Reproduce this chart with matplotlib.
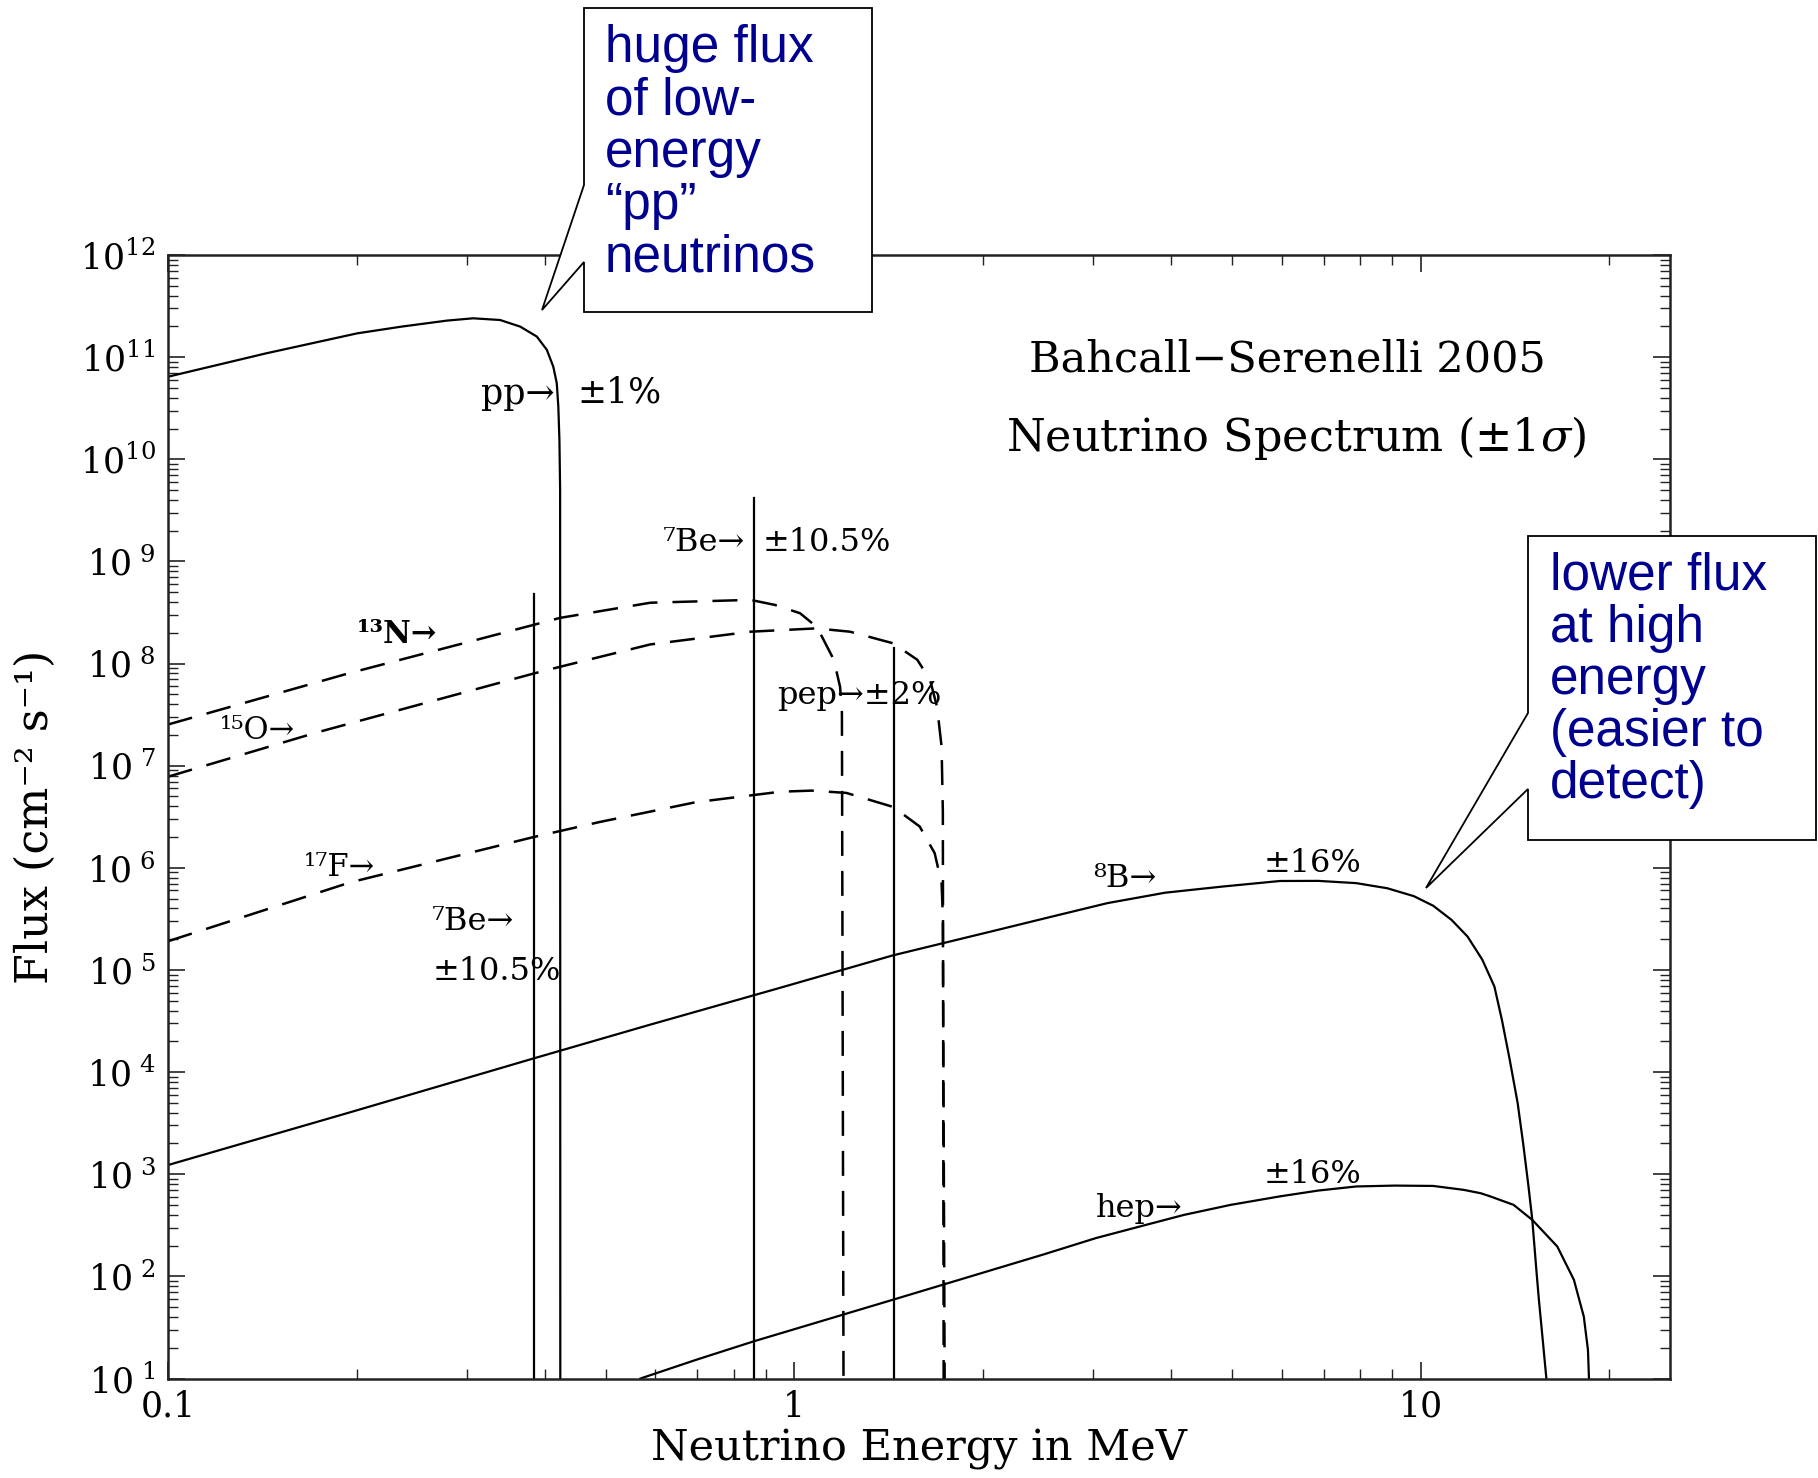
import matplotlib
matplotlib.use('Agg')
import numpy as np
import matplotlib.pyplot as plt
from matplotlib.patches import Polygon
from matplotlib.ticker import FixedLocator, FixedFormatter, LogLocator, NullFormatter

plt.rcParams['font.family'] = ['DejaVu Serif']
plt.rcParams['mathtext.fontset'] = 'dejavuserif'

# spectra: energy in MeV, flux in cm^-2 s^-1 (MeV^-1 for continua)
pp_E = [0.100, 0.1435, 0.2005, 0.236, 0.279, 0.307, 0.339, 0.365, 0.388, 0.4025, 0.4122, 0.4175, 0.4199,
        0.4216, 0.4227, 0.4230]
pp_F = [6.43e10, 1.09e11, 1.71e11, 1.99e11, 2.28e11, 2.40e11, 2.31e11, 1.99e11, 1.59e11, 1.18e11, 8.07e10,
        5.56e10, 3.28e10, 1.55e10, 5e9, 1.0]

n13_E = [0.100, 0.1937, 0.3833, 0.4227, 0.589, 0.851, 0.931, 1.021, 1.087, 1.156, 1.183, 1.191, 1.199]
n13_F = [2.53e7, 7.98e7, 2.39e8, 2.80e8, 3.94e8, 4.20e8, 3.75e8, 3.11e8, 2.27e8, 1.09e8, 5.9e7, 3.28e7, 1.0]

o15_E = [0.100, 0.1726, 0.3833, 0.4227, 0.589, 0.851, 1.084, 1.227, 1.437, 1.571, 1.647, 1.690, 1.718, 1.726, 1.732]
o15_F = [7.8e6, 2.11e7, 7.98e7, 9.3e7, 1.54e8, 2.05e8, 2.21e8, 2.05e8, 1.58e8, 1.09e8, 6.9e7, 3.74e7, 1.54e7, 3.56e6, 1.0]

f17_E = [0.100, 0.1954, 0.3833, 0.489, 0.696, 0.950, 1.066, 1.211, 1.437, 1.585, 1.675, 1.718, 1.726, 1.740]
f17_F = [1.91e5, 7.2e5, 2.0e6, 2.81e6, 4.39e6, 5.56e6, 5.70e6, 5.41e6, 3.95e6, 2.54e6, 1.39e6, 7.05e5, 3.39e5, 1.0]

b8_E = [0.100, 0.1937, 0.3833, 0.587, 0.950, 1.437, 2.13, 2.562, 3.16, 3.91, 4.82, 5.96, 6.86, 7.89, 8.84, 9.75,
        10.47, 11.2, 11.88, 12.54, 13.11, 13.48, 13.87, 14.28, 14.57, 14.86, 15.07, 15.32, 15.44, 15.64, 15.87]
b8_F = [1.23e3, 3.98e3, 1.36e4, 2.90e4, 6.7e4, 1.39e5, 2.50e5, 3.30e5, 4.51e5, 5.71e5, 6.55e5, 7.43e5, 7.45e5,
        7.08e5, 6.31e5, 5.28e5, 4.25e5, 3.09e5, 2.12e5, 1.26e5, 6.88e4, 3.22e4, 1.32e4, 4.97e3, 2.01e3, 759, 357,
        103, 58.8, 25.8, 10.0]

hep_E = [0.568, 0.696, 0.861, 1.44, 2.50, 3.03, 3.64, 4.19, 4.97, 5.96, 6.86, 7.89, 9.09, 10.47, 11.71, 12.46,
         12.91, 14.07, 15.07, 16.52, 17.56, 18.21, 18.49, 18.56]
hep_F = [10.0, 15.2, 23.1, 59.3, 164, 237, 319, 400, 501, 607, 692, 759, 774, 768, 703, 652,
         607, 501, 357, 196, 92.5, 40.4, 19.1, 10.0]

# line sources (7Be 0.384, 7Be 0.862, pep 1.442)
line_E = [0.384, 0.862, 1.442]
line_F = [4.85e8, 4.13e9, 1.42e8]

x_ticks = [0.1, 1, 10]
x_tick_labels = ['0.1', '1', '10']
y_ticks = [10.0 ** k for k in range(1, 13)]
y_tick_labels = [r'$10^{\ %d}$' % k if k < 10 else r'$10^{%d}$' % k for k in range(1, 13)]

W, H = 1818, 1478
fig = plt.figure(figsize=(W / 100, H / 100), dpi=100)
ax = fig.add_axes([168 / W, 1 - 1378.5 / H, (1670 - 168) / W, (1378.5 - 255) / H])

lw = 1.6
ax.plot(pp_E, pp_F, color='black', lw=lw)
ax.plot(b8_E, b8_F, color='black', lw=lw)
ax.plot(hep_E, hep_F, color='black', lw=lw)
for e, f in zip(line_E, line_F):
    ax.plot([e, e], [1.0, f], color='black', lw=lw)
for E, F in [(n13_E, n13_F), (o15_E, o15_F), (f17_E, f17_F)]:
    ax.plot(E, F, color='black', lw=1.8, dashes=(10, 6))

ax.set_xscale('log')
ax.set_yscale('log')
ax.set_xlim(0.1, 25)
ax.set_ylim(10, 1e12)

ax.xaxis.set_major_locator(FixedLocator(x_ticks))
ax.xaxis.set_major_formatter(FixedFormatter(x_tick_labels))
ax.xaxis.set_minor_locator(LogLocator(base=10, subs=np.arange(2, 10), numticks=50))
ax.xaxis.set_minor_formatter(NullFormatter())
ax.yaxis.set_major_locator(FixedLocator(y_ticks))
ax.yaxis.set_major_formatter(FixedFormatter(y_tick_labels))
ax.yaxis.set_minor_locator(LogLocator(base=10, subs=np.arange(2, 10), numticks=50))
ax.yaxis.set_minor_formatter(NullFormatter())

ax.tick_params(which='both', direction='in', top=True, right=True, color='#222222')
ax.tick_params(which='major', length=12, width=1.2, labelsize=25)
ax.tick_params(axis='y', which='major', pad=9)
ax.tick_params(axis='x', which='major', pad=8)
ax.tick_params(which='minor', length=7, width=1.0)
for s in ax.spines.values():
    s.set_linewidth(1.8)
    s.set_color('#222222')

ax.set_xlabel('Neutrino Energy in MeV', fontsize=31, va='center')
ax.xaxis.set_label_coords(0.5, -0.063)
ax.set_ylabel('Flux (cm⁻² s⁻¹)', fontsize=32, va='center')
ax.yaxis.set_label_coords(-0.088, 0.5)

ax.text(0.745, 0.907, 'Bahcall−Serenelli 2005', transform=ax.transAxes, fontsize=31,
        ha='center', va='center')
ax.text(0.751, 0.837, r'Neutrino Spectrum (±1$\sigma$)', transform=ax.transAxes, fontsize=32,
        ha='center', va='center')

labels = [
    ('pp→', 0.2085, 0.876, 25, 'normal'),
    ('±1%', 0.2726, 0.878, 25, 'normal'),
    ('⁷Be→', 0.3297, 0.744, 23, 'normal'),
    ('±10.5%', 0.396, 0.744, 23, 'normal'),
    ('¹³N→', 0.1259, 0.6625, 22, 'bold'),
    ('¹⁵O→', 0.0347, 0.577, 22, 'normal'),
    ('¹⁷F→', 0.0903, 0.455, 22, 'normal'),
    ('⁷Be→', 0.1753, 0.4066, 23, 'normal'),
    ('±10.5%', 0.1761, 0.3622, 23, 'normal'),
    ('pep→±2%', 0.4054, 0.6078, 23, 'normal'),
    ('⁸B→', 0.6162, 0.4448, 23, 'normal'),
    ('±16%', 0.7297, 0.4582, 23, 'normal'),
    ('hep→', 0.6178, 0.1517, 23, 'normal'),
    ('±16%', 0.7297, 0.1816, 23, 'normal'),
]
for txt, x, y, size, weight in labels:
    ax.text(x, y, txt, transform=ax.transAxes, fontsize=size, fontweight=weight,
            ha='left', va='center')


# callout boxes, drawn in figure pixels
def px(pts):
    return [(x / W, 1 - y / H) for x, y in pts]


box1 = [(584, 8), (872, 8), (872, 312), (584, 312), (584, 262), (542, 310), (584, 185)]
box2 = [(1528, 536), (1816, 536), (1816, 840), (1528, 840), (1528, 789), (1426, 888), (1528, 713)]
for pts in (box1, box2):
    fig.add_artist(Polygon(px(pts), closed=True, transform=fig.transFigure,
                           facecolor='white', edgecolor='black', lw=1.3, zorder=5))

note1 = ['huge flux', 'of low-', 'energy', '“pp”', 'neutrinos']
note2 = ['lower flux', 'at high', 'energy', '(easier to', 'detect)']
for i, line in enumerate(note1):
    fig.text(605 / W, 1 - (61.7 + 52.5 * i) / H, line, fontsize=37, color='#000090',
             family='Liberation Sans', ha='left', va='baseline', zorder=6)
for i, line in enumerate(note2):
    fig.text(1550 / W, 1 - (590 + 52 * i) / H, line, fontsize=37, color='#000090',
             family='Liberation Sans', ha='left', va='baseline', zorder=6)

fig.savefig('out.png', dpi=100)
